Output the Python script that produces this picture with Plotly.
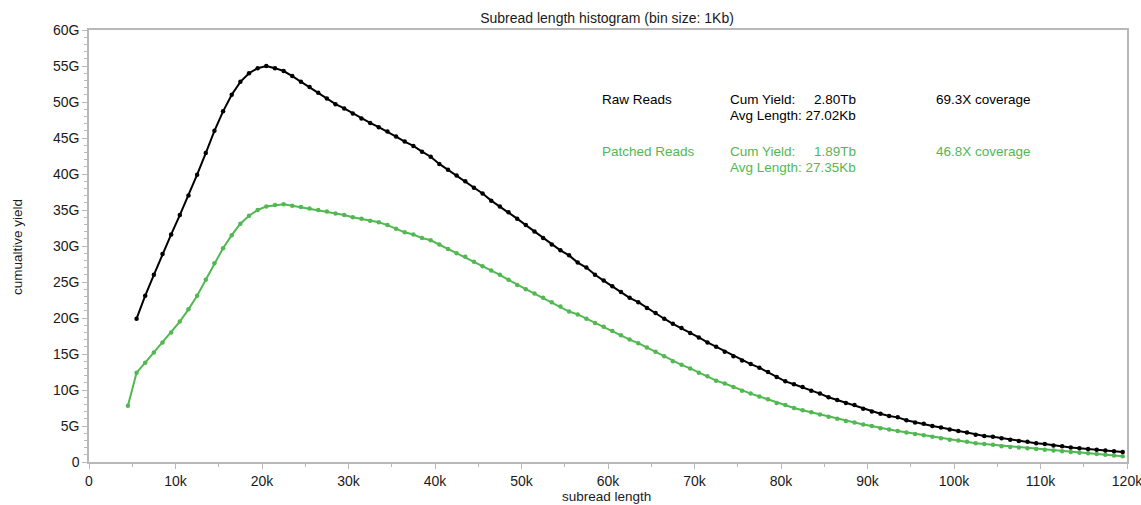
import plotly.graph_objects as go

# subread length bin centers (kb)
raw_x = [i + 0.5 for i in range(5, 120)]
patched_x = [i + 0.5 for i in range(4, 120)]

# cumulative yield (G)
raw_y = [
    19.9, 23.1, 26.0, 28.9, 31.6, 34.3, 37.0, 39.9, 42.9, 46.0,
    48.7, 51.0, 52.8, 54.0, 54.7, 55.0, 54.7, 54.3, 53.6, 52.8,
    52.1, 51.3, 50.5, 49.7, 49.1, 48.4, 47.7, 47.1, 46.5, 45.9,
    45.2, 44.5, 43.9, 43.1, 42.4, 41.4, 40.6, 39.8, 39.0, 38.1,
    37.3, 36.3, 35.5, 34.7, 33.8, 32.9, 32.0, 31.1, 30.2, 29.4,
    28.7, 27.7, 27.0, 26.0, 25.2, 24.4, 23.6, 22.8, 22.2, 21.4,
    20.7, 19.9, 19.2, 18.6, 17.9, 17.3, 16.6, 16.0, 15.3, 14.7,
    14.1, 13.6, 13.1, 12.5, 11.8, 11.2, 10.8, 10.4, 9.9, 9.5,
    9.0, 8.6, 8.2, 7.9, 7.4, 7.0, 6.7, 6.4, 6.2, 5.8,
    5.5, 5.3, 5.0, 4.8, 4.5, 4.3, 4.1, 3.8, 3.6, 3.5,
    3.3, 3.1, 2.9, 2.8, 2.6, 2.5, 2.3, 2.2, 2.0, 1.9,
    1.8, 1.7, 1.6, 1.5, 1.4,
]
patched_y = [
    7.8, 12.4, 13.8, 15.2, 16.6, 18.0, 19.5, 21.2, 23.1, 25.3,
    27.6, 29.7, 31.5, 33.1, 34.2, 35.0, 35.5, 35.7, 35.8, 35.6,
    35.4, 35.2, 35.0, 34.8, 34.5, 34.3, 34.0, 33.8, 33.5, 33.3,
    32.9, 32.4, 31.9, 31.6, 31.1, 30.8, 30.2, 29.6, 29.0, 28.5,
    27.8, 27.2, 26.6, 26.0, 25.3, 24.6, 24.0, 23.4, 22.8, 22.2,
    21.6, 20.9, 20.5, 19.9, 19.3, 18.8, 18.2, 17.6, 17.0, 16.5,
    15.9, 15.3, 14.7, 14.0, 13.5, 13.0, 12.4, 11.9, 11.3, 10.9,
    10.4, 9.9, 9.5, 9.1, 8.7, 8.2, 7.9, 7.5, 7.2, 6.9,
    6.6, 6.3, 6.0, 5.7, 5.5, 5.2, 5.0, 4.7, 4.5, 4.3,
    4.1, 3.9, 3.7, 3.5, 3.3, 3.1, 3.0, 2.8, 2.6, 2.5,
    2.4, 2.2, 2.1, 2.0, 1.9, 1.8, 1.7, 1.6, 1.5, 1.4,
    1.3, 1.2, 1.1, 1.0, 0.9, 0.8,
]

x_tickvals = [0, 10, 20, 30, 40, 50, 60, 70, 80, 90, 100, 110, 120]
x_ticktext = ["0", "10k", "20k", "30k", "40k", "50k", "60k", "70k", "80k", "90k", "100k", "110k", "120k"]
y_tickvals = [0, 5, 10, 15, 20, 25, 30, 35, 40, 45, 50, 55, 60]
y_ticktext = ["0", "5G", "10G", "15G", "20G", "25G", "30G", "35G", "40G", "45G", "50G", "55G", "60G"]

raw_labels = ["Raw Reads", "Cum Yield:", "2.80Tb", "Avg Length: 27.02Kb", "69.3X coverage"]
patched_labels = ["Patched Reads", "Cum Yield:", "1.89Tb", "Avg Length: 27.35Kb", "46.8X coverage"]

BLACK = "#000000"
GREEN = "#52b852"
AXIS = "#b8b8b8"
TEXT = "#1a1a1a"
FONT = "Liberation Sans, Arial, sans-serif"

# plot area in pixels
L, R, T, B = 89, 1127, 30, 462
W, H = 1141, 505


def px(x):
    return (x - L) / (R - L)


def py(y):
    return (B - y) / (B - T)


fig = go.Figure()
fig.add_trace(go.Scatter(
    x=patched_x, y=patched_y, mode="lines+markers", name="Patched Reads",
    line=dict(color=GREEN, width=2), marker=dict(color=GREEN, size=4.5),
    cliponaxis=False,
))
fig.add_trace(go.Scatter(
    x=raw_x, y=raw_y, mode="lines+markers", name="Raw Reads",
    line=dict(color=BLACK, width=2), marker=dict(color=BLACK, size=4.5),
    cliponaxis=False,
))


def ann(text, x, y, color, xanchor="left", size=13.5):
    fig.add_annotation(
        text=text, x=px(x), y=py(y), xref="paper", yref="paper",
        xanchor=xanchor, yanchor="middle", showarrow=False, align="left",
        font=dict(color=color, size=size, family=FONT),
    )


for labels, color, y1, y2 in [(raw_labels, BLACK, 99, 115.5), (patched_labels, GREEN, 151, 167.5)]:
    ann(labels[0], 600, y1, color)
    ann(labels[1], 728, y1, color)
    ann(labels[2], 858, y1, color, xanchor="right")
    ann(labels[3], 728, y2, color)
    ann(labels[4], 934, y1, color)

# axis titles
fig.add_annotation(
    text="subread length", x=px(606), y=py(496), xref="paper", yref="paper",
    xanchor="center", yanchor="middle", showarrow=False,
    font=dict(color=TEXT, size=13.5, family=FONT),
)
fig.add_annotation(
    text="cumualtive yield", x=px(17), y=py(247), xref="paper", yref="paper",
    xanchor="center", yanchor="middle", showarrow=False, textangle=-90,
    font=dict(color=TEXT, size=13.5, family=FONT),
)

fig.update_layout(
    width=W, height=H,
    margin=dict(l=L, r=W - R, t=T, b=H - B, autoexpand=False),
    paper_bgcolor="white", plot_bgcolor="white",
    showlegend=False,
    font=dict(family=FONT, size=14, color=TEXT),
    title=dict(
        text="Subread length histogram (bin size: 1Kb)",
        x=607 / W, xanchor="center", xref="container",
        y=1 - 18 / H, yanchor="middle", yref="container",
        font=dict(size=14, color=TEXT, family=FONT),
        automargin=False,
    ),
)
fig.update_xaxes(
    range=[0, 120.0001], tickvals=x_tickvals, ticktext=x_ticktext,
    showgrid=False, zeroline=False, automargin=False,
    showline=True, linecolor=AXIS, linewidth=1.5, mirror=True,
    ticks="outside", ticklen=5, tickcolor=AXIS,
    minor=dict(dtick=5, ticks="outside", ticklen=3, tickcolor=AXIS),
    tickfont=dict(size=14), ticklabeloverflow="allow",
)
fig.update_yaxes(
    range=[0, 60.0001], tickvals=y_tickvals, ticktext=y_ticktext,
    showgrid=False, zeroline=False, automargin=False,
    showline=True, linecolor=AXIS, linewidth=1.5, mirror=True,
    ticks="outside", ticklen=5, tickcolor=AXIS,
    minor=dict(dtick=1, ticks="outside", ticklen=3, tickcolor=AXIS),
    tickfont=dict(size=14), ticklabeloverflow="allow",
)

fig.write_html(
    "out.html",
    config={"displayModeBar": False},
    post_script="document.body.style.margin='0';",
)
